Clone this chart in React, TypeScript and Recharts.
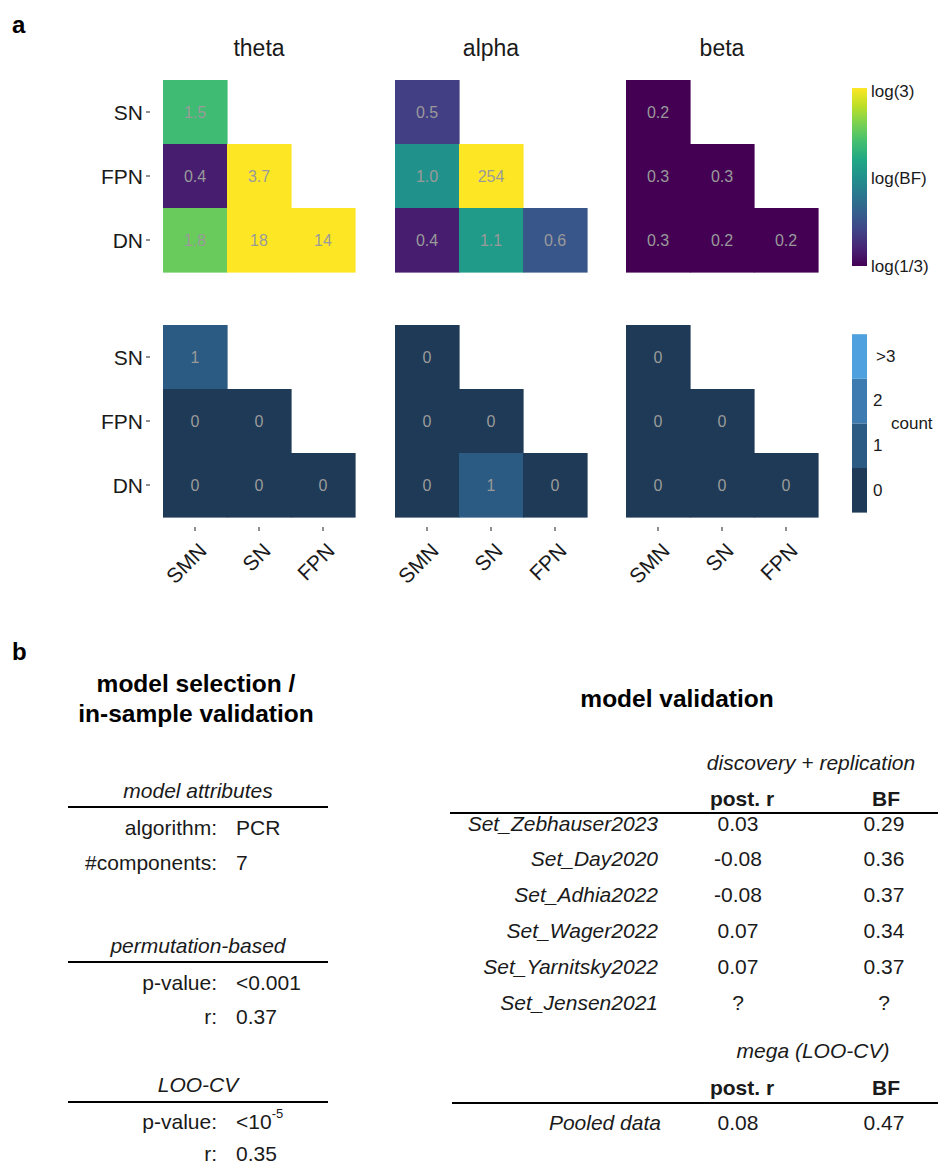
import React from 'react';
import { ScatterChart, Scatter, XAxis, YAxis } from 'recharts';

const bands = ['theta', 'alpha', 'beta'];
const rowNets = ['SN', 'FPN', 'DN'];
const colNets = ['SMN', 'SN', 'FPN'];

// lower triangle cells, read row by row: (SN,SMN) (FPN,SMN) (FPN,SN) (DN,SMN) (DN,SN) (DN,FPN)
const cellRow = [1, 2, 2, 3, 3, 3];
const cellCol = [1, 1, 2, 1, 2, 3];

const bfTheta = [1.5, 0.4, 3.7, 1.8, 18, 14];
const bfAlpha = [0.5, 1.0, 254, 0.4, 1.1, 0.6];
const bfBeta = [0.2, 0.3, 0.3, 0.3, 0.2, 0.2];

const countTheta = [1, 0, 0, 0, 0, 0];
const countAlpha = [0, 0, 0, 0, 1, 0];
const countBeta = [0, 0, 0, 0, 0, 0];

const countLegend = ['0', '1', '2', '>3'];

const attrLabels = ['algorithm:', '#components:'];
const attrValues = ['PCR', '7'];
const permLabels = ['p-value:', 'r:'];
const permValues = ['<0.001', '0.37'];
const looLabels = ['p-value:', 'r:'];

const setNames = ['Set_Zebhauser2023', 'Set_Day2020', 'Set_Adhia2022', 'Set_Wager2022', 'Set_Yarnitsky2022', 'Set_Jensen2021'];
const setPostR = ['0.03', '-0.08', '-0.08', '0.07', '0.07', '?'];
const setBF = ['0.29', '0.36', '0.37', '0.34', '0.37', '?'];
const pooledName = 'Pooled data';
const pooledPostR = '0.08';
const pooledBF = '0.47';

const FONT = '"Liberation Sans", Arial, Helvetica, sans-serif';
const PLOT = 192;
const CELL = PLOT / 3;
const TEXT = '#1a1a1a';

const VIRIDIS = ['#440154', '#482475', '#414487', '#355f8d', '#2a788e', '#21918c', '#22a884', '#44bf70', '#7ad151', '#bddf26', '#fde725'];
const COUNT_COLORS = ['#1e3a57', '#2b5a82', '#3d7bb1', '#4fa0de'];

function hexToRgb(h: string) {
  return [parseInt(h.slice(1, 3), 16), parseInt(h.slice(3, 5), 16), parseInt(h.slice(5, 7), 16)];
}

function viridis(t: number) {
  const c = Math.max(0, Math.min(1, t)) * 10;
  const i = Math.min(9, Math.floor(c));
  const f = c - i;
  const a = hexToRgb(VIRIDIS[i]);
  const b = hexToRgb(VIRIDIS[i + 1]);
  const m = a.map((v, k) => Math.round(v + (b[k] - v) * f));
  return `rgb(${m[0]},${m[1]},${m[2]})`;
}

// clipped to log(1/3)..log(3)
const bfColor = (v: number) => viridis((Math.log(v) / Math.log(3) + 1) / 2);
const bfLabel = (v: number) => (v >= 10 ? String(Math.round(v)) : v.toFixed(1));

const toCells = (vals: number[]) => vals.map((value, i) => ({ x: cellCol[i], y: cellRow[i], value }));

const makeShape = (kind: 'bf' | 'count') => (p: any) => {
  const v = p.payload.value;
  const fill = kind === 'bf' ? bfColor(v) : COUNT_COLORS[Math.min(3, v)];
  const label = kind === 'bf' ? bfLabel(v) : String(v);
  return (
    <g>
      <rect x={p.cx - CELL / 2} y={p.cy - CELL / 2} width={CELL + 0.6} height={CELL + 0.6} fill={fill} />
      <text x={p.cx} y={p.cy} textAnchor="middle" dominantBaseline="central" fontSize={16} fill="#9a9a9a" fontFamily={FONT}>
        {label}
      </text>
    </g>
  );
};

const YTick = (p: any) => (
  <g>
    <text x={p.x - 20} y={p.y} textAnchor="end" dominantBaseline="central" fontSize={21} fill={TEXT} fontFamily={FONT}>
      {rowNets[p.payload.value - 1]}
    </text>
    <line x1={p.x - 17} x2={p.x - 13} y1={p.y} y2={p.y} stroke="#333" strokeWidth={1.1} />
  </g>
);

const XTick = (p: any) => {
  const tx = p.x + 13;
  const ty = p.y + 35;
  return (
    <g>
      <line x1={p.x} x2={p.x} y1={p.y + 10} y2={p.y + 14} stroke="#333" strokeWidth={1.1} />
      <text x={tx} y={ty} textAnchor="end" transform={`rotate(-45 ${tx} ${ty})`} fontSize={21} fill={TEXT} fontFamily={FONT}>
        {colNets[p.payload.value - 1]}
      </text>
    </g>
  );
};

function Panel({ vals, kind, left, top, showY, showX }: any) {
  const yw = showY ? 63 : 0;
  const xh = showX ? 80 : 0;
  return (
    <div style={{ position: 'absolute', left: left - yw, top }}>
      <ScatterChart width={yw + PLOT + 2} height={PLOT + xh + 2} margin={{ top: 0, right: 2, bottom: 2, left: 0 }}>
        <XAxis type="number" dataKey="x" domain={[0.5, 3.5]} ticks={[1, 2, 3]} interval={0} hide={!showX} height={xh}
          axisLine={false} tickLine={false} tickSize={0} tickMargin={0} tick={XTick} />
        <YAxis type="number" dataKey="y" domain={[0.5, 3.5]} ticks={[1, 2, 3]} interval={0} reversed hide={!showY} width={yw}
          axisLine={false} tickLine={false} tickSize={0} tickMargin={0} tick={YTick} />
        <Scatter data={toCells(vals)} shape={makeShape(kind)} isAnimationActive={false} />
      </ScatterChart>
    </div>
  );
}

const panelLeft = [163, 395, 626];
const bfSets = [bfTheta, bfAlpha, bfBeta];
const countSets = [countTheta, countAlpha, countBeta];

function Overlay() {
  const t = (x: number, y: number, s: string, o: any = {}) => (
    <text x={x} y={y} dominantBaseline="central" fontSize={21} fill={TEXT} fontFamily={FONT} {...o}>{s}</text>
  );
  const rowY = (i: number) => 823 + i * 35.8;
  return (
    <svg width={938} height={1165} style={{ position: 'absolute', left: 0, top: 0 }}>
      <defs>
        <linearGradient id="vir" x1="0" y1="1" x2="0" y2="0">
          {VIRIDIS.map((c, i) => <stop key={i} offset={`${i * 10}%`} stopColor={c} />)}
        </linearGradient>
      </defs>
      {/* panel letters */}
      <text x={12} y={33} fontSize={24} fontWeight="bold" fill="#000" fontFamily={FONT}>a</text>
      <text x={12} y={660} fontSize={24} fontWeight="bold" fill="#000" fontFamily={FONT}>b</text>

      {/* band titles */}
      {bands.map((b, i) => t(panelLeft[i] + PLOT / 2, 48, b, { key: b, textAnchor: 'middle', fontSize: 23 }))}

      {/* BF colour bar */}
      <rect x={852} y={88} width={15} height={178} fill="url(#vir)" />
      {t(871, 91, 'log(3)', { fontSize: 17 })}
      {t(871, 178, 'log(BF)', { fontSize: 17 })}
      {t(871, 266, 'log(1/3)', { fontSize: 17 })}

      {/* count legend */}
      {countLegend.map((lab, i) => {
        const y0 = 468 - i * 44.6;
        return (
          <g key={lab}>
            <rect x={852} y={y0} width={15} height={44.6} fill={COUNT_COLORS[i]} />
            {t(i === 3 ? 876 : 873, y0 + 22, lab, { fontSize: 17 })}
          </g>
        );
      })}
      {t(891, 423, 'count', { fontSize: 17 })}

      {/* left block */}
      {t(196, 683, 'model selection /', { textAnchor: 'middle', fontSize: 24.5, fontWeight: 'bold', fill: '#000' })}
      {t(196, 713, 'in-sample validation', { textAnchor: 'middle', fontSize: 24.5, fontWeight: 'bold', fill: '#000' })}

      {t(198, 790, 'model attributes', { textAnchor: 'middle', fontStyle: 'italic' })}
      <line x1={68} x2={328} y1={807} y2={807} stroke="#000" strokeWidth={2} />
      {attrLabels.map((l, i) => (
        <g key={l}>
          {t(217, 827 + i * 35, l, { textAnchor: 'end' })}
          {t(236, 827 + i * 35, attrValues[i])}
        </g>
      ))}

      {t(198, 945, 'permutation-based', { textAnchor: 'middle', fontStyle: 'italic' })}
      <line x1={68} x2={328} y1={962} y2={962} stroke="#000" strokeWidth={2} />
      {permLabels.map((l, i) => (
        <g key={l}>
          {t(217, 982 + i * 34.5, l, { textAnchor: 'end' })}
          {t(236, 982 + i * 34.5, permValues[i])}
        </g>
      ))}

      {t(198, 1084, 'LOO-CV', { textAnchor: 'middle', fontStyle: 'italic' })}
      <line x1={68} x2={328} y1={1102} y2={1102} stroke="#000" strokeWidth={2} />
      {t(217, 1121, looLabels[0], { textAnchor: 'end' })}
      <text x={236} y={1121} dominantBaseline="central" fontSize={21} fill={TEXT} fontFamily={FONT}>
        {'<10'}
        <tspan fontSize={13} dy={-8}>-5</tspan>
      </text>
      {t(217, 1153, looLabels[1], { textAnchor: 'end' })}
      {t(236, 1153, '0.35')}

      {/* right block */}
      {t(677, 698, 'model validation', { textAnchor: 'middle', fontSize: 24.5, fontWeight: 'bold', fill: '#000' })}
      {t(811, 762, 'discovery + replication', { textAnchor: 'middle', fontStyle: 'italic' })}
      {t(742, 798, 'post. r', { textAnchor: 'middle', fontWeight: 'bold' })}
      {t(886, 798, 'BF', { textAnchor: 'middle', fontWeight: 'bold' })}
      <line x1={450} x2={938} y1={813} y2={813} stroke="#000" strokeWidth={2} />
      {setNames.map((n, i) => (
        <g key={n}>
          {t(658, rowY(i), n, { textAnchor: 'end', fontStyle: 'italic' })}
          {t(738, rowY(i), setPostR[i], { textAnchor: 'middle' })}
          {t(884, rowY(i), setBF[i], { textAnchor: 'middle' })}
        </g>
      ))}
      {t(813, 1050, 'mega (LOO-CV)', { textAnchor: 'middle', fontStyle: 'italic' })}
      {t(742, 1087, 'post. r', { textAnchor: 'middle', fontWeight: 'bold' })}
      {t(886, 1087, 'BF', { textAnchor: 'middle', fontWeight: 'bold' })}
      <line x1={452} x2={938} y1={1103} y2={1103} stroke="#000" strokeWidth={2} />
      {t(661, 1122, pooledName, { textAnchor: 'end', fontStyle: 'italic' })}
      {t(738, 1122, pooledPostR, { textAnchor: 'middle' })}
      {t(884, 1122, pooledBF, { textAnchor: 'middle' })}
    </svg>
  );
}

export default function App() {
  return (
    <div style={{ position: 'absolute', left: 0, top: 0, width: 938, height: 1165, background: '#fff', fontFamily: FONT, overflow: 'hidden' }}>
      <Overlay />
      {bfSets.map((vals, i) => (
        <Panel key={`bf${i}`} vals={vals} kind="bf" left={panelLeft[i]} top={80} showY={i === 0} showX={false} />
      ))}
      {countSets.map((vals, i) => (
        <Panel key={`ct${i}`} vals={vals} kind="count" left={panelLeft[i]} top={325} showY={i === 0} showX />
      ))}
    </div>
  );
}
